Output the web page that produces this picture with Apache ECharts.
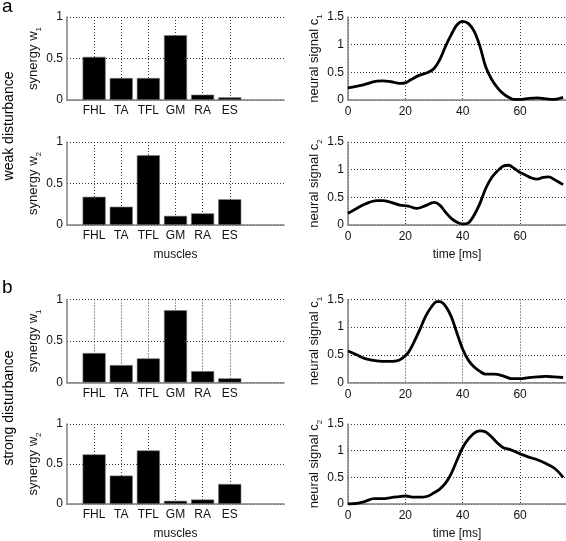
<!DOCTYPE html>
<html>
<head>
<meta charset="utf-8">
<script src="https://cdn.jsdelivr.net/npm/echarts@6/dist/echarts.min.js"></script>
<style>
html,body{margin:0;padding:0;background:#fff;}
#chart{width:566px;height:541px;}
</style>
</head>
<body>
<div id="chart"></div>
<script>
// ---- data ----
const muscles = ['FHL', 'TA', 'TFL', 'GM', 'RA', 'ES'];
const weakW1 = [0.52, 0.265, 0.265, 0.78, 0.064, 0.032];
const weakW2 = [0.34, 0.22, 0.84, 0.11, 0.14, 0.31];
const strongW1 = [0.355, 0.21, 0.29, 0.87, 0.137, 0.05];
const strongW2 = [0.62, 0.355, 0.67, 0.04, 0.056, 0.25];

const weakC1Time = [0, 5, 10, 12, 15, 18, 20, 22, 25, 28, 30, 32, 34, 36, 38, 40, 42, 44, 46, 48, 50, 52, 54, 56, 58, 60, 63, 66, 69, 72, 75];
const weakC1 = [0.22, 0.27, 0.34, 0.345, 0.33, 0.30, 0.31, 0.37, 0.45, 0.50, 0.57, 0.73, 0.97, 1.18, 1.36, 1.42, 1.38, 1.24, 0.97, 0.60, 0.38, 0.23, 0.12, 0.05, 0.01, 0.01, 0.03, 0.04, 0.02, 0.01, 0.05];

const weakC2Time = [0, 3, 6, 10, 12, 15, 18, 21, 24, 27, 30, 32, 34, 36, 38, 40, 42, 44, 46, 48, 50, 52, 54, 56, 58, 60, 62, 64, 66, 68, 70, 72, 74, 75];
const weakC2 = [0.21, 0.30, 0.38, 0.44, 0.44, 0.41, 0.36, 0.34, 0.30, 0.35, 0.41, 0.36, 0.23, 0.12, 0.05, 0.02, 0.04, 0.18, 0.39, 0.66, 0.85, 0.97, 1.06, 1.08, 1.02, 0.95, 0.90, 0.85, 0.83, 0.86, 0.87, 0.82, 0.76, 0.73];

const strongC1Time = [0, 3, 6, 10, 14, 17, 19, 21, 23, 25, 27, 29, 31, 32, 34, 36, 38, 40, 42, 44, 46, 48, 51, 54, 57, 60, 63, 66, 69, 72, 75];
const strongC1 = [0.57, 0.50, 0.43, 0.39, 0.38, 0.39, 0.44, 0.54, 0.73, 0.95, 1.19, 1.36, 1.46, 1.46, 1.38, 1.19, 0.89, 0.60, 0.40, 0.28, 0.20, 0.15, 0.15, 0.12, 0.07, 0.07, 0.09, 0.10, 0.11, 0.10, 0.09];

const strongC2Time = [0, 3, 6, 9, 12, 15, 18, 20, 23, 26, 28, 30, 32, 34, 36, 38, 40, 42, 44, 46, 48, 50, 52, 54, 56, 58, 60, 63, 66, 69, 72, 75];
const strongC2 = [0.00, 0.01, 0.05, 0.10, 0.10, 0.12, 0.14, 0.15, 0.13, 0.13, 0.15, 0.21, 0.28, 0.39, 0.57, 0.82, 1.06, 1.22, 1.33, 1.37, 1.35, 1.26, 1.15, 1.06, 1.03, 0.99, 0.94, 0.88, 0.83, 0.76, 0.67, 0.50];

const barYTicks = [0, 0.5, 1];
const lineYTicks = [0, 0.5, 1, 1.5];
const timeTicks = [0, 20, 40, 60];

// ---- layout ----
const FONT = '"Liberation Sans", Arial, Helvetica, sans-serif';
const rowTops = [17, 142, 299.5, 424];
const rowH = 83;
const leftX = 67, leftW = 217;
const rightX = 348, rightW = 221;

const axisLineStyle = { color: '#808080', width: 1.5 };
const gridLineStyle = { type: [1, 2], color: '#333', width: 1 };
const labelStyle = { color: '#111', fontSize: 12, fontFamily: FONT };

const grids = [], xAxes = [], yAxes = [], series = [];

const barSets = [
  { vals: weakW1, sub: '1', xname: '' },
  { vals: weakW2, sub: '2', xname: 'muscles' },
  { vals: strongW1, sub: '1', xname: '' },
  { vals: strongW2, sub: '2', xname: 'muscles' }
];
const lineSets = [
  { t: weakC1Time, v: weakC1, sub: '1', xname: '' },
  { t: weakC2Time, v: weakC2, sub: '2', xname: 'time [ms]' },
  { t: strongC1Time, v: strongC1, sub: '1', xname: '' },
  { t: strongC2Time, v: strongC2, sub: '2', xname: 'time [ms]' }
];

function nameStyle(size) {
  return {
    color: '#111', fontSize: size, fontFamily: FONT, lineHeight: 18,
    rich: { s: { fontSize: 8, fontFamily: FONT, color: '#111', lineHeight: 8, verticalAlign: 'bottom' } }
  };
}

const cats = [''].concat(muscles, ['', '']);

for (let r = 0; r < 4; r++) {
  // bar panel
  const gi = grids.length;
  grids.push({ left: leftX, top: rowTops[r], width: leftW, height: rowH });
  xAxes.push({
    type: 'category', gridIndex: gi, data: cats, boundaryGap: false,
    axisLine: { show: true, lineStyle: axisLineStyle },
    axisTick: { show: false },
    axisLabel: Object.assign({ interval: 0, margin: 5 }, labelStyle),
    splitLine: { show: true, interval: (i) => i >= 1 && i <= muscles.length, lineStyle: gridLineStyle },
    name: barSets[r].xname, nameLocation: 'middle', nameGap: 24,
    nameTextStyle: { color: '#111', fontSize: 12, fontFamily: FONT }
  });
  yAxes.push({
    type: 'value', gridIndex: gi, min: barYTicks[0], max: barYTicks[barYTicks.length - 1], interval: 0.5,
    axisLine: { show: true, lineStyle: axisLineStyle },
    axisTick: { show: false },
    axisLabel: Object.assign({ margin: 4 }, labelStyle),
    splitLine: { show: true, lineStyle: gridLineStyle },
    name: 'synergy w{s|' + barSets[r].sub + '}', nameLocation: 'middle', nameGap: 18,
    nameTextStyle: nameStyle(13)
  });
  series.push({
    type: 'bar', xAxisIndex: gi, yAxisIndex: gi,
    data: ['-'].concat(barSets[r].vals, ['-', '-']),
    barWidth: '85%',
    itemStyle: { color: '#000', borderColor: '#777', borderWidth: 0.6 },
    silent: true
  });

  // line panel
  const gj = grids.length;
  grids.push({ left: rightX, top: rowTops[r], width: rightW, height: rowH });
  xAxes.push({
    type: 'value', gridIndex: gj, min: 0, max: 76, interval: 20,
    axisLine: { show: true, lineStyle: axisLineStyle },
    axisTick: { show: false },
    axisLabel: Object.assign({ margin: 6, showMaxLabel: false, formatter: (v) => timeTicks.indexOf(v) >= 0 ? String(v) : '' }, labelStyle),
    splitLine: { show: true, lineStyle: gridLineStyle },
    name: lineSets[r].xname, nameLocation: 'middle', nameGap: 24,
    nameTextStyle: { color: '#111', fontSize: 12, fontFamily: FONT }
  });
  yAxes.push({
    type: 'value', gridIndex: gj, min: lineYTicks[0], max: lineYTicks[lineYTicks.length - 1], interval: 0.5,
    axisLine: { show: true, lineStyle: axisLineStyle },
    axisTick: { show: false },
    axisLabel: Object.assign({ margin: 4 }, labelStyle),
    splitLine: { show: true, lineStyle: gridLineStyle },
    name: 'neural signal c{s|' + lineSets[r].sub + '}', nameLocation: 'middle', nameGap: 22,
    nameTextStyle: nameStyle(13)
  });
  series.push({
    type: 'line', xAxisIndex: gj, yAxisIndex: gj,
    data: lineSets[r].t.map((t, i) => [t, lineSets[r].v[i]]),
    smooth: 0.35, showSymbol: false, silent: true,
    lineStyle: { color: '#000', width: 2.8 }
  });
}

const chart = echarts.init(document.getElementById('chart'), null, { renderer: 'canvas' });
chart.setOption({
  backgroundColor: '#fff',
  animation: false,
  grid: grids, xAxis: xAxes, yAxis: yAxes, series: series,
  graphic: [
    { type: 'text', left: 2, top: -3, style: { text: 'a', fontSize: 19, fontFamily: FONT, fill: '#000' } },
    { type: 'text', left: 2, top: 278, style: { text: 'b', fontSize: 19, fontFamily: FONT, fill: '#000' } },
    { type: 'text', x: 9, y: 126, rotation: Math.PI / 2,
      style: { text: 'weak disturbance', fontSize: 14, fontFamily: FONT, fill: '#000', align: 'center', verticalAlign: 'middle' } },
    { type: 'text', x: 9, y: 408, rotation: Math.PI / 2,
      style: { text: 'strong disturbance', fontSize: 14, fontFamily: FONT, fill: '#000', align: 'center', verticalAlign: 'middle' } }
  ]
});
</script>
</body>
</html>
